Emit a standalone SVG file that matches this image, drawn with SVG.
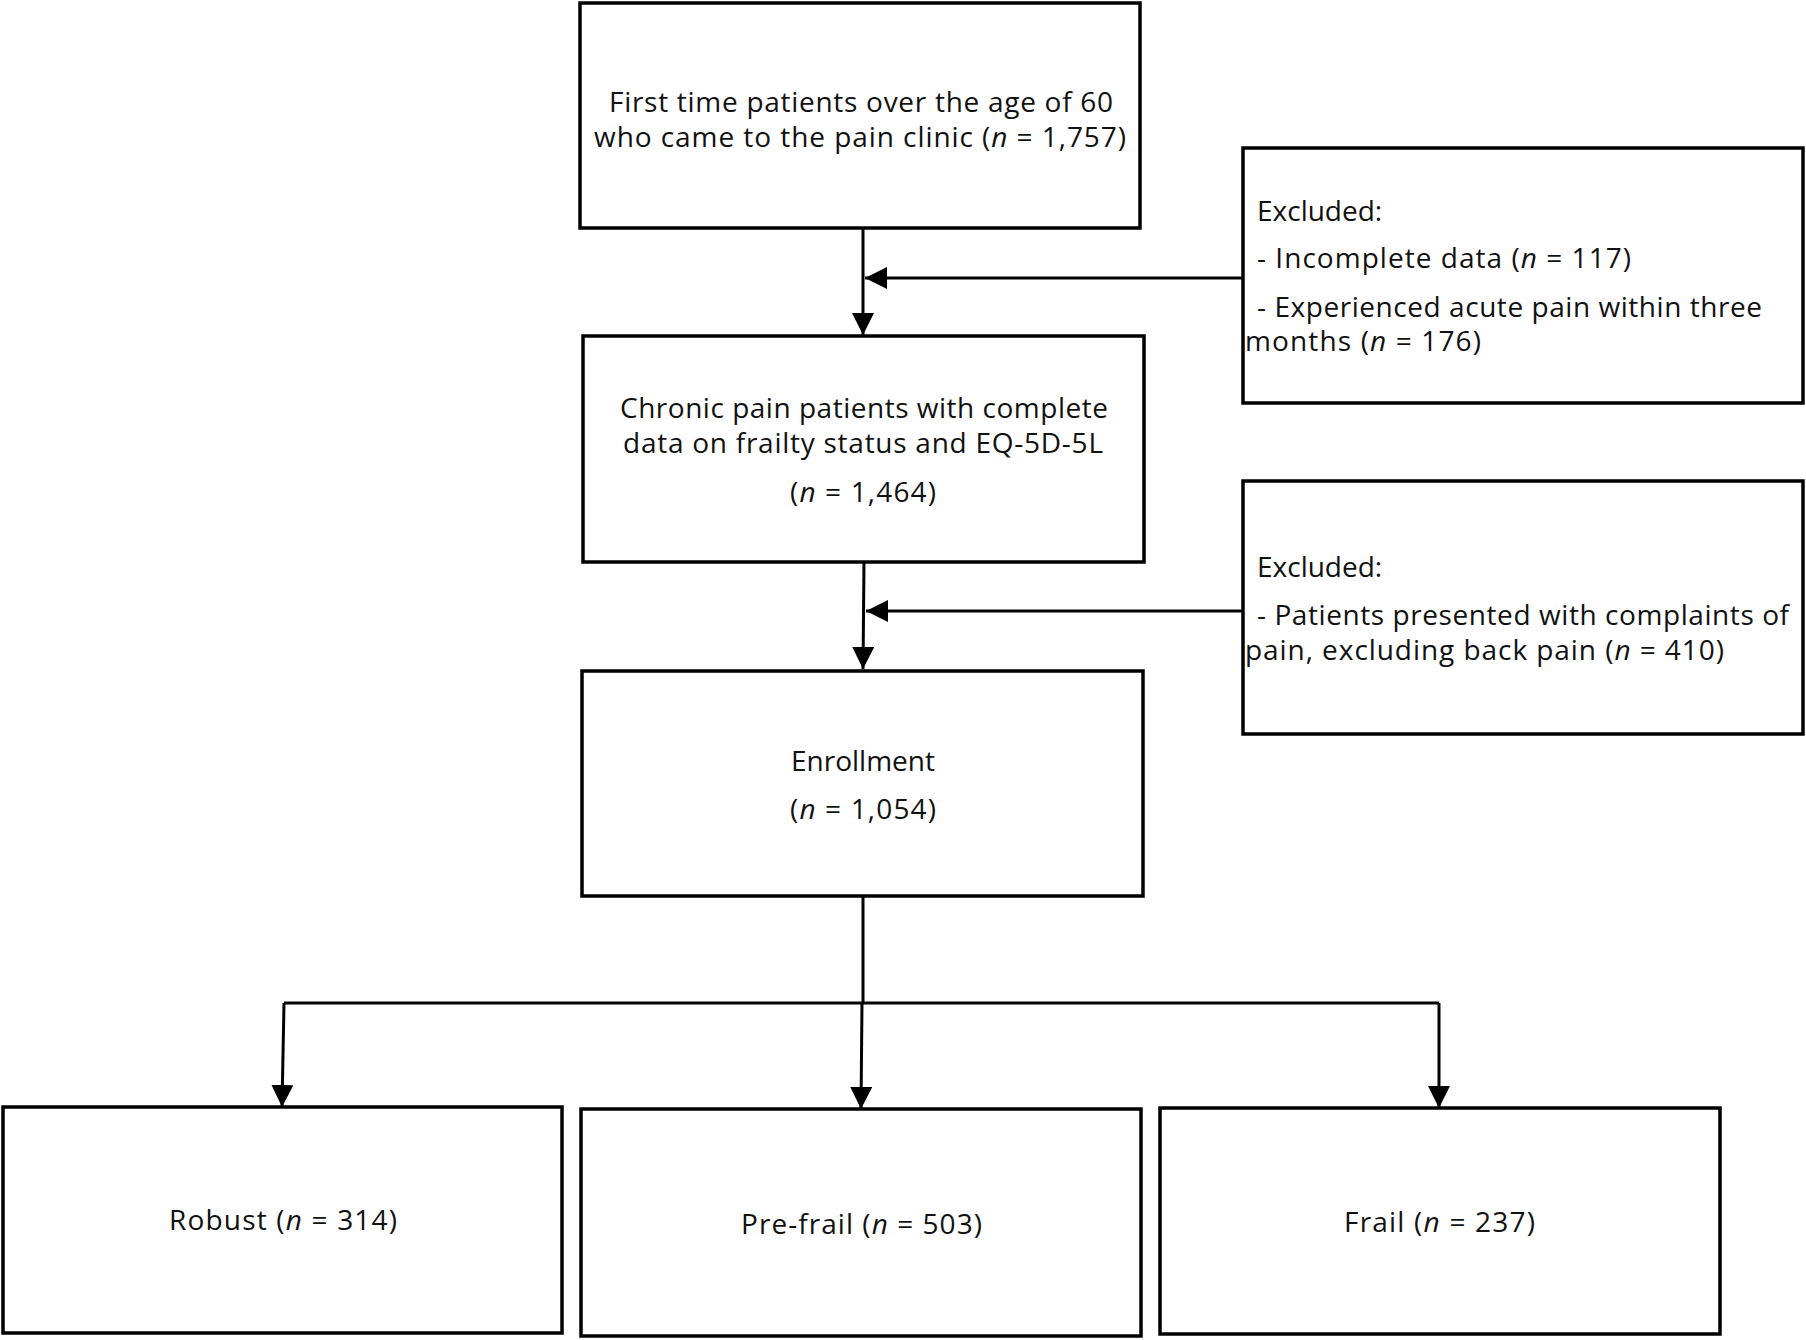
<svg xmlns="http://www.w3.org/2000/svg" width="1806" height="1340" viewBox="0 0 1806 1340">
<style>
.box{fill:#fff;stroke:#000;stroke-width:3.5}
.t{font-family:"Open Sans","Noto Sans","Liberation Sans",sans-serif;font-size:28px;fill:#111}
.c{text-anchor:middle}
.i{font-style:italic}
.ln{fill:none;stroke:#000;stroke-width:3}
</style>
<defs>
<marker id="ah" markerUnits="userSpaceOnUse" markerWidth="22" markerHeight="24" refX="22" refY="11" orient="auto">
<path d="M0,0 L22,11 L0,22 Z" fill="#000"/>
</marker>
</defs>
<rect width="1806" height="1340" fill="#fff"/>
<g id="connectors">
<line class="ln" x1="863" y1="228" x2="863" y2="335" marker-end="url(#ah)"/>
<line class="ln" x1="1243" y1="278" x2="865" y2="278" marker-end="url(#ah)"/>
<line class="ln" x1="864" y1="562" x2="863" y2="669" marker-end="url(#ah)"/>
<line class="ln" x1="1243" y1="611" x2="866" y2="611" marker-end="url(#ah)"/>
<polyline class="ln" points="863,896 863,1003"/>
<polyline class="ln" points="284,1003 1439,1003"/>
<line class="ln" x1="284" y1="1003" x2="282" y2="1107" marker-end="url(#ah)"/>
<line class="ln" x1="862" y1="1003" x2="861" y2="1109" marker-end="url(#ah)"/>
<line class="ln" x1="1439" y1="1003" x2="1439" y2="1108" marker-end="url(#ah)"/>
</g>
<g id="n1">
<rect class="box" x="580" y="3" width="560" height="225"/>
<text class="t" x="609" y="112" textLength="504" lengthAdjust="spacing">First time patients over the age of 60</text>
<text class="t" x="594" y="147" textLength="532" lengthAdjust="spacing">who came to the pain clinic (<tspan class="i">n</tspan> = 1,757)</text>
</g>
<g id="ex1">
<rect class="box" x="1243" y="148" width="560" height="255"/>
<text class="t" x="1257" y="221">Excluded:</text>
<text class="t" x="1257" y="268" textLength="374" lengthAdjust="spacing">- Incomplete data (<tspan class="i">n</tspan> = 117)</text>
<text class="t" x="1257" y="317" textLength="505" lengthAdjust="spacing">- Experienced acute pain within three</text>
<text class="t" x="1245" y="351" textLength="236" lengthAdjust="spacing">months (<tspan class="i">n</tspan> = 176)</text>
</g>
<g id="n2">
<rect class="box" x="583" y="336" width="561" height="226"/>
<text class="t" x="620" y="418" textLength="488" lengthAdjust="spacing">Chronic pain patients with complete</text>
<text class="t" x="623" y="453" textLength="480" lengthAdjust="spacing">data on frailty status and EQ-5D-5L</text>
<text class="t" x="790" y="502" textLength="146" lengthAdjust="spacing">(<tspan class="i">n</tspan> = 1,464)</text>
</g>
<g id="ex2">
<rect class="box" x="1243" y="481" width="560" height="253"/>
<text class="t" x="1257" y="577">Excluded:</text>
<text class="t" x="1257" y="625" textLength="532" lengthAdjust="spacing">- Patients presented with complaints of</text>
<text class="t" x="1245" y="660" textLength="479" lengthAdjust="spacing">pain, excluding back pain (<tspan class="i">n</tspan> = 410)</text>
</g>
<g id="n3">
<rect class="box" x="582" y="671" width="561" height="225"/>
<text class="t c" x="863" y="771">Enrollment</text>
<text class="t" x="790" y="819" textLength="146" lengthAdjust="spacing">(<tspan class="i">n</tspan> = 1,054)</text>
</g>
<g id="robust">
<rect class="box" x="3" y="1107" width="559" height="226"/>
<text class="t" x="169" y="1230" textLength="228" lengthAdjust="spacing">Robust (<tspan class="i">n</tspan> = 314)</text>
</g>
<g id="prefrail">
<rect class="box" x="581" y="1109" width="560" height="227"/>
<text class="t" x="741" y="1234" textLength="241" lengthAdjust="spacing">Pre-frail (<tspan class="i">n</tspan> = 503)</text>
</g>
<g id="frail">
<rect class="box" x="1160" y="1108" width="560" height="226"/>
<text class="t" x="1344" y="1232" textLength="191" lengthAdjust="spacing">Frail (<tspan class="i">n</tspan> = 237)</text>
</g>
</svg>
